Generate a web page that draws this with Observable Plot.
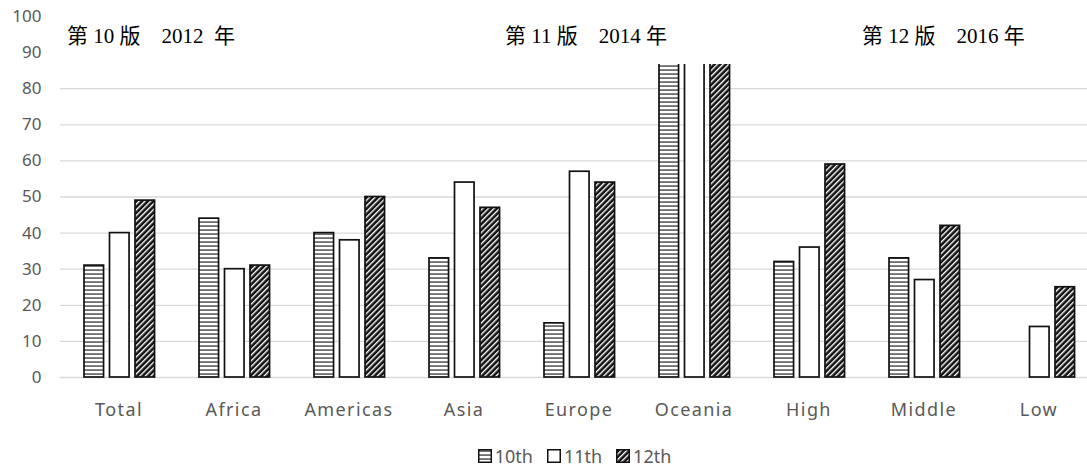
<!DOCTYPE html>
<html>
<head>
<meta charset="utf-8">
<script src="https://cdn.jsdelivr.net/npm/d3@7"></script>
<script src="https://cdn.jsdelivr.net/npm/@observablehq/plot@0.6"></script>
<style>
  body { margin: 0; background: #fff; }
  #wrap { position: relative; width: 1087px; height: 470px; font-family: "Noto Sans", sans-serif; }
  #note { position: absolute; top: 0; left: 52px; width: 1035px; height: 64px; background: #fff; }
  #note span { position: absolute; top: 23px; font-family: "Liberation Serif", "Noto Sans CJK SC", serif; font-size: 21px; color: #000; white-space: pre; line-height: 26px; }
  #legend { display: flex; justify-content: center; align-items: center; height: 37px; color: #595959; font-size: 18px; padding-left: 62px; box-sizing: border-box; width: 1087px; margin-top: 2px; }
  #legend .item { display: flex; align-items: center; margin: 0 7px; }
  #legend svg { margin-right: 3px; }
</style>
</head>
<body>
<div id="wrap">
  <div id="chart"></div>
  <div id="legend"></div>
  <div id="note"></div>
</div>
<script>
// ---- data ----
const categories = ["Total", "Africa", "Americas", "Asia", "Europe", "Oceania", "High", "Middle", "Low"];
const editions = ["10th", "11th", "12th"];
// Oceania bars run under the title box; 87 is their visible extent
const values10 = [31, 44, 40, 33, 15, 87, 32, 33, null];
const values11 = [40, 30, 38, 54, 57, 87, 36, 27, 14];
const values12 = [49, 31, 50, 47, 54, 87, 59, 42, 25];
const yTicks = [0, 10, 20, 30, 40, 50, 60, 70, 80, 90, 100];
const noteTexts = ["第 10 版　2012  年", "第 11 版　2014 年", "第 12 版　2016 年"];
const noteLefts = [67, 505, 862];

const seriesValues = [values10, values11, values12];
const patternIds = ["pat-h", "pat-w", "pat-d"];

// ---- layout ----
const W = 1087, H = 435;
const xRange = [59, 1098];
const band = (xRange[1] - xRange[0]) / categories.length;
const barW = 20, groupLeft = 23, barStep = 25.5;

const marks = [
  Plot.ruleY(yTicks, {stroke: "#d9d9d9", strokeWidth: 1.3})
];
editions.forEach((ed, i) => {
  const rows = categories.map((c, j) => ({category: c, edition: ed, value: seriesValues[i][j]}))
    .filter(d => d.value != null);
  const insetLeft = groupLeft + i * barStep;
  marks.push(Plot.barY(rows, {
    x: "category", y: "value",
    fill: `url(#${patternIds[i]})`,
    stroke: "#111", strokeWidth: 1.7,
    insetLeft, insetRight: band - insetLeft - barW
  }));
});

const chart = Plot.plot({
  width: W, height: H,
  marginLeft: 60, marginRight: 0, marginTop: 16, marginBottom: 58,
  style: {fontFamily: "'Noto Sans', sans-serif", color: "#595959", background: "#fff", overflow: "visible"},
  x: {domain: categories, range: xRange, padding: 0, tickSize: 0, tickPadding: 26, label: null},
  y: {domain: [0, 100], ticks: yTicks, tickSize: 0, tickPadding: 19, label: null},
  marks
});

const svg = d3.select(chart);
function addPatterns(sel) {
  const defs = sel.insert("defs", ":first-child");
  const ph = defs.append("pattern").attr("id", "pat-h").attr("patternUnits", "userSpaceOnUse")
    .attr("width", 8).attr("height", 4);
  ph.append("rect").attr("width", 8).attr("height", 4).attr("fill", "#fff");
  ph.append("rect").attr("y", 1.5).attr("width", 8).attr("height", 1.1).attr("fill", "#111");
  const pw = defs.append("pattern").attr("id", "pat-w").attr("patternUnits", "userSpaceOnUse")
    .attr("width", 4).attr("height", 4);
  pw.append("rect").attr("width", 4).attr("height", 4).attr("fill", "#fff");
  const pd = defs.append("pattern").attr("id", "pat-d").attr("patternUnits", "userSpaceOnUse")
    .attr("width", 4).attr("height", 4).attr("patternTransform", "rotate(45)");
  pd.append("rect").attr("width", 4).attr("height", 4).attr("fill", "#111");
  pd.append("rect").attr("x", 0).attr("width", 1.4).attr("height", 4).attr("fill", "#fff");
}
addPatterns(svg);
svg.selectAll("[aria-label='y-axis tick label'] text, [aria-label='y-axis'] text").style("font-size", "17px");
svg.selectAll("[aria-label='x-axis tick label'] text, [aria-label='x-axis'] text").style("font-size", "18px").style("letter-spacing", "1.4px");
document.getElementById("chart").appendChild(chart);

// title box (overlay, as in the original)
const note = d3.select("#note");
noteTexts.forEach((t, i) => note.append("span").style("left", (noteLefts[i] - 52) + "px").text(t));

// legend
const legend = d3.select("#legend");
editions.forEach((ed, i) => {
  const item = legend.append("div").attr("class", "item");
  const s = item.append("svg").attr("width", 14).attr("height", 14);
  s.append("rect").attr("x", 0.75).attr("y", 0.75).attr("width", 12.5).attr("height", 12.5)
    .attr("fill", `url(#${patternIds[i]})`).attr("stroke", "#111").attr("stroke-width", 1.5);
  item.append("span").text(ed);
});
</script>
</body>
</html>
